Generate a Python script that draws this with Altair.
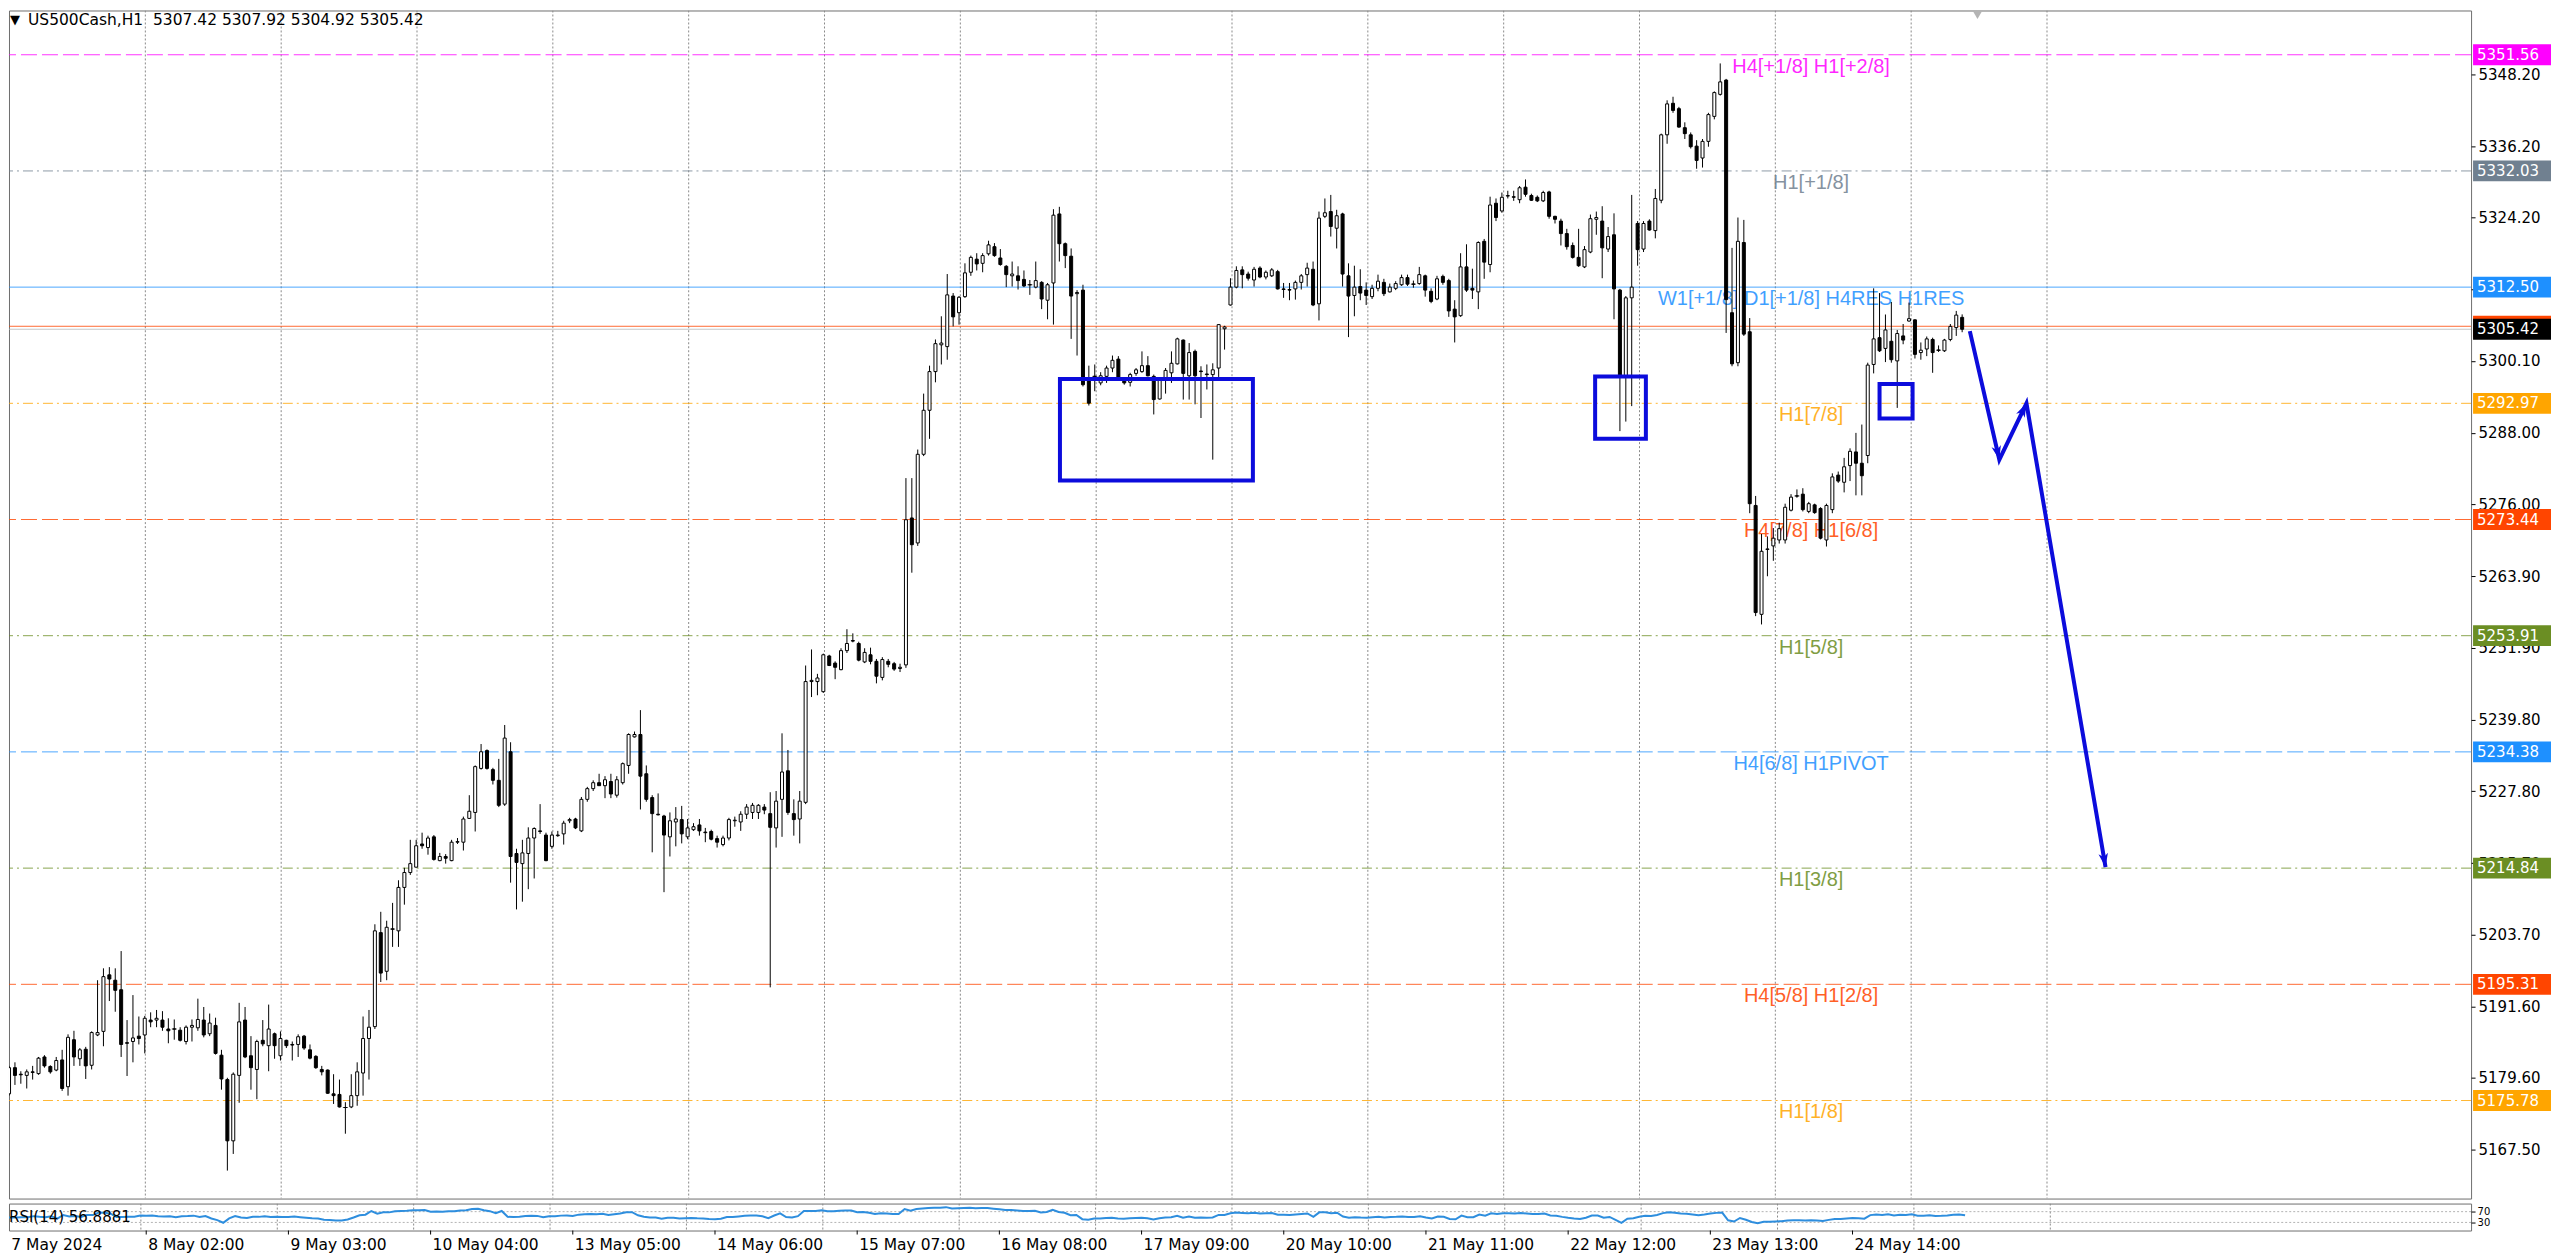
import math
import altair as alt
import numpy as np
import pandas as pd

# ---------------- data (US500Cash, H1) ----------------
opens = [
5176.9, 5181.3, 5180.2, 5180.0, 5180.6, 5180.3, 5183.1, 5181.5, 5180.9, 5182.6,
5178.1, 5186.0, 5182.8, 5184.4, 5181.7, 5186.8, 5187.4, 5196.9, 5196.0, 5194.4,
5185.5, 5185.7, 5186.6, 5186.8, 5189.3, 5189.3, 5189.3, 5187.8, 5187.8, 5187.6,
5185.7, 5188.1, 5188.0, 5189.3, 5187.0, 5188.4, 5183.4, 5179.3, 5169.0, 5180.0,
5189.3, 5183.3, 5181.0, 5185.9, 5185.0, 5187.0, 5183.3, 5185.9, 5185.2, 5185.2,
5186.6, 5184.3, 5183.2, 5181.0, 5180.9, 5176.9, 5176.8, 5174.6, 5174.7, 5176.6,
5180.4, 5186.2, 5188.2, 5204.0, 5197.5, 5204.6, 5204.3, 5211.6, 5214.1, 5215.0,
5218.9, 5218.3, 5220.1, 5216.1, 5216.8, 5216.1, 5219.2, 5219.2, 5223.2, 5224.2,
5231.6, 5234.6, 5231.4, 5229.6, 5225.6, 5234.4, 5217.3, 5215.6, 5217.3, 5219.9,
5221.1, 5220.4, 5218.5, 5220.3, 5220.6, 5222.8, 5223.1, 5221.1, 5226.4, 5228.2,
5229.2, 5228.7, 5229.4, 5227.1, 5229.2, 5232.1, 5236.9, 5237.3, 5230.7, 5226.7,
5223.9, 5223.6, 5220.1, 5222.6, 5223.0, 5220.1, 5221.3, 5222.1, 5220.9, 5221.0,
5219.8, 5218.8, 5219.9, 5222.8, 5222.6, 5223.9, 5224.2, 5224.2, 5225.1, 5224.0,
5221.6, 5226.4, 5231.2, 5224.0, 5223.1, 5225.9, 5246.2, 5246.2, 5244.5, 5250.5,
5249.3, 5248.2, 5251.4, 5253.1, 5252.6, 5249.5, 5250.7, 5249.6, 5246.9, 5249.6,
5249.2, 5248.4, 5249.0, 5273.7, 5269.5, 5284.4, 5291.8, 5298.3, 5302.8, 5302.5,
5311.0, 5308.2, 5310.9, 5315.0, 5317.2, 5316.5, 5318.1, 5319.3, 5317.4, 5316.0,
5314.4, 5314.4, 5313.8, 5312.9, 5312.5, 5313.3, 5310.3, 5313.2, 5324.8, 5319.8,
5317.7, 5311.4, 5312.0, 5296.8, 5297.5, 5296.4, 5297.5, 5298.9, 5300.4, 5296.8,
5296.5, 5298.0, 5298.3, 5299.3, 5297.5, 5293.7, 5297.0, 5298.1, 5299.6, 5303.6,
5297.6, 5301.7, 5298.4, 5297.9, 5297.8, 5298.9, 5305.5, 5309.5, 5312.5, 5315.4,
5314.7, 5313.7, 5315.7, 5314.2, 5314.4, 5315.1, 5312.2, 5312.1, 5312.2, 5313.3,
5314.6, 5315.5, 5309.7, 5324.4, 5325.2, 5322.4, 5324.8, 5314.4, 5311.1, 5312.6,
5312.0, 5310.9, 5312.3, 5313.3, 5311.7, 5312.3, 5312.9, 5314.1, 5313.0, 5313.1,
5314.4, 5311.8, 5310.5, 5314.3, 5313.6, 5308.8, 5307.7, 5315.9, 5312.3, 5311.7,
5320.2, 5316.3, 5326.6, 5325.3, 5327.8, 5327.7, 5327.2, 5329.3, 5327.9, 5327.6,
5327.0, 5328.5, 5324.4, 5323.6, 5321.5, 5319.5, 5317.5, 5315.9, 5318.4, 5323.9,
5323.6, 5318.9, 5321.3, 5312.0, 5297.6, 5310.7, 5323.2, 5318.9, 5323.6, 5322.0,
5327.1, 5338.1, 5343.4, 5342.5, 5339.3, 5338.1, 5336.2, 5334.2, 5337.0, 5341.2,
5344.9, 5347.3, 5308.2, 5299.8, 5320.0, 5305.0, 5275.8, 5257.5, 5268.4, 5269.0,
5270.0, 5270.0, 5275.0, 5277.4, 5277.7, 5274.8, 5275.9, 5275.3, 5270.0, 5275.1,
5280.9, 5279.7, 5282.5, 5284.8, 5282.9, 5284.2, 5299.5, 5304.0, 5302.2, 5303.4,
5300.1, 5304.3, 5306.8, 5307.0, 5301.5, 5302.1, 5303.7, 5301.9, 5301.8, 5303.7,
5305.7, 5307.42]

highs = [
5181.6, 5182.2, 5180.7, 5181.0, 5181.6, 5183.1, 5183.4, 5181.7, 5183.1, 5184.3,
5186.9, 5187.5, 5184.6, 5184.8, 5187.4, 5196.0, 5198.0, 5198.2, 5198.0, 5200.9,
5189.3, 5193.5, 5189.9, 5190.0, 5190.6, 5191.0, 5190.8, 5189.6, 5189.4, 5188.1,
5188.4, 5189.4, 5192.9, 5191.5, 5190.4, 5189.7, 5184.3, 5179.6, 5180.5, 5192.2,
5191.5, 5186.6, 5186.0, 5189.3, 5191.9, 5187.2, 5187.4, 5186.0, 5185.7, 5186.9,
5186.8, 5185.2, 5183.4, 5181.6, 5181.0, 5180.2, 5179.3, 5175.5, 5180.2, 5182.2,
5189.9, 5191.0, 5205.4, 5207.5, 5206.0, 5209.0, 5212.8, 5214.9, 5219.6, 5219.6,
5220.8, 5220.3, 5220.4, 5217.4, 5217.2, 5219.6, 5219.9, 5223.5, 5227.1, 5232.1,
5235.7, 5234.8, 5231.7, 5233.2, 5238.9, 5236.0, 5218.1, 5219.6, 5221.7, 5221.7,
5225.6, 5220.8, 5221.0, 5221.1, 5222.8, 5223.3, 5223.3, 5226.8, 5228.5, 5229.6,
5230.7, 5230.3, 5230.7, 5230.3, 5232.6, 5237.5, 5237.8, 5241.4, 5232.1, 5227.1,
5227.4, 5223.8, 5224.2, 5225.1, 5225.3, 5223.1, 5222.4, 5223.1, 5221.6, 5221.3,
5220.3, 5220.3, 5223.3, 5223.5, 5224.4, 5225.6, 5225.8, 5225.6, 5225.6, 5227.6,
5227.8, 5237.5, 5234.7, 5226.4, 5227.8, 5248.9, 5251.6, 5247.5, 5250.9, 5250.7,
5249.6, 5251.8, 5255.0, 5254.3, 5252.9, 5251.8, 5251.9, 5250.0, 5250.3, 5250.0,
5249.5, 5249.2, 5280.4, 5280.4, 5285.2, 5294.6, 5299.3, 5303.7, 5307.6, 5314.7,
5311.5, 5311.0, 5316.5, 5317.8, 5318.2, 5318.2, 5320.3, 5319.9, 5318.9, 5316.2,
5316.8, 5316.0, 5315.3, 5313.7, 5316.8, 5313.5, 5313.2, 5325.6, 5326.0, 5320.0,
5319.0, 5312.0, 5312.9, 5299.3, 5299.5, 5298.2, 5299.3, 5301.0, 5300.9, 5297.2,
5298.1, 5298.9, 5301.7, 5300.9, 5297.8, 5297.2, 5298.9, 5301.7, 5304.0, 5303.7,
5303.1, 5302.0, 5299.2, 5299.5, 5299.7, 5306.3, 5306.0, 5314.0, 5316.0, 5316.0,
5315.1, 5315.9, 5316.0, 5315.3, 5315.7, 5315.4, 5313.2, 5313.2, 5313.6, 5314.7,
5316.6, 5316.8, 5325.2, 5327.4, 5328.0, 5325.5, 5325.0, 5316.5, 5316.1, 5315.5,
5313.3, 5312.9, 5314.6, 5313.9, 5313.1, 5313.5, 5314.6, 5314.6, 5313.6, 5315.9,
5314.6, 5312.3, 5314.4, 5314.6, 5313.9, 5310.3, 5318.2, 5319.7, 5315.6, 5320.2,
5320.6, 5327.7, 5327.4, 5328.4, 5328.7, 5328.7, 5329.5, 5330.6, 5328.2, 5327.9,
5328.7, 5328.7, 5324.5, 5324.0, 5322.3, 5320.0, 5322.3, 5319.4, 5324.7, 5325.2,
5326.1, 5322.6, 5324.9, 5312.2, 5311.0, 5328.0, 5323.6, 5323.6, 5323.9, 5329.0,
5338.3, 5343.9, 5344.5, 5342.8, 5340.2, 5338.5, 5337.2, 5337.4, 5341.8, 5345.4,
5350.1, 5347.5, 5319.1, 5324.2, 5323.8, 5307.3, 5277.4, 5271.0, 5270.6, 5272.0,
5272.9, 5276.1, 5277.7, 5278.5, 5278.7, 5276.4, 5276.1, 5275.5, 5276.1, 5281.2,
5281.5, 5283.8, 5285.4, 5288.0, 5289.4, 5299.8, 5312.3, 5311.5, 5307.9, 5310.0,
5305.3, 5306.3, 5309.9, 5307.1, 5303.2, 5304.2, 5304.0, 5302.7, 5303.8, 5306.3,
5308.5, 5307.92]

lows = [
5176.6, 5178.4, 5178.6, 5177.8, 5179.3, 5180.1, 5181.3, 5180.3, 5180.7, 5177.4,
5176.6, 5181.6, 5181.6, 5179.4, 5181.0, 5186.6, 5184.9, 5192.5, 5190.7, 5183.1,
5179.9, 5182.2, 5185.2, 5183.7, 5188.1, 5188.1, 5187.5, 5185.4, 5186.0, 5185.7,
5185.2, 5185.7, 5187.5, 5186.4, 5186.6, 5183.5, 5177.6, 5164.0, 5166.8, 5175.4,
5182.9, 5177.6, 5176.0, 5184.9, 5180.7, 5182.8, 5182.5, 5184.6, 5182.5, 5183.1,
5184.3, 5182.7, 5181.1, 5180.0, 5176.9, 5175.2, 5174.6, 5170.2, 5174.5, 5174.9,
5176.6, 5179.3, 5187.8, 5195.7, 5196.0, 5201.6, 5201.6, 5208.7, 5213.7, 5215.0,
5218.1, 5217.1, 5216.1, 5216.0, 5215.6, 5216.0, 5218.9, 5217.8, 5223.1, 5221.0,
5231.4, 5231.4, 5228.9, 5225.1, 5225.3, 5212.4, 5207.9, 5209.2, 5211.3, 5213.1,
5220.6, 5216.0, 5218.1, 5220.1, 5218.8, 5222.4, 5221.4, 5220.9, 5226.0, 5227.8,
5228.7, 5226.6, 5226.6, 5226.7, 5228.9, 5230.7, 5236.8, 5224.7, 5226.0, 5217.5,
5223.7, 5210.8, 5216.8, 5218.5, 5219.0, 5219.7, 5221.1, 5220.3, 5219.2, 5219.5,
5218.3, 5218.5, 5219.5, 5221.8, 5221.1, 5223.1, 5223.1, 5223.1, 5223.9, 5194.8,
5218.3, 5220.1, 5223.8, 5220.3, 5219.0, 5225.6, 5243.6, 5243.9, 5244.3, 5248.8,
5246.6, 5248.1, 5251.0, 5252.8, 5249.6, 5249.3, 5249.1, 5245.9, 5246.4, 5248.6,
5248.0, 5247.8, 5248.5, 5264.5, 5269.0, 5284.1, 5287.0, 5296.5, 5299.5, 5300.3,
5305.9, 5306.2, 5310.7, 5314.4, 5315.3, 5315.0, 5317.8, 5317.6, 5316.1, 5312.5,
5312.6, 5312.1, 5312.5, 5311.2, 5312.3, 5308.8, 5307.1, 5306.2, 5316.8, 5315.7,
5303.8, 5301.0, 5295.8, 5292.6, 5295.0, 5296.0, 5296.4, 5298.2, 5297.0, 5296.1,
5295.8, 5297.6, 5298.1, 5297.5, 5291.1, 5293.6, 5294.6, 5296.4, 5299.5, 5293.6,
5293.6, 5292.8, 5290.5, 5295.3, 5283.5, 5297.4, 5302.0, 5309.4, 5312.3, 5312.3,
5313.6, 5312.6, 5314.0, 5313.8, 5314.2, 5312.1, 5310.7, 5310.3, 5310.4, 5312.1,
5312.6, 5309.3, 5306.9, 5324.1, 5321.0, 5319.0, 5312.6, 5304.1, 5307.6, 5310.3,
5309.5, 5310.5, 5311.8, 5311.0, 5311.6, 5312.0, 5312.7, 5312.7, 5312.4, 5312.9,
5310.9, 5309.8, 5310.3, 5312.9, 5307.5, 5303.2, 5307.5, 5311.7, 5310.5, 5308.8,
5313.9, 5315.0, 5323.6, 5325.0, 5327.4, 5327.0, 5326.6, 5327.7, 5327.0, 5326.8,
5326.8, 5324.0, 5323.2, 5319.5, 5318.8, 5317.3, 5315.9, 5315.7, 5318.2, 5321.3,
5314.0, 5318.4, 5307.1, 5288.3, 5289.9, 5292.5, 5316.1, 5318.4, 5322.0, 5320.7,
5326.6, 5336.6, 5341.8, 5339.3, 5337.4, 5335.8, 5332.4, 5332.6, 5336.1, 5340.7,
5344.7, 5304.8, 5299.2, 5299.2, 5304.3, 5274.5, 5257.2, 5255.8, 5263.9, 5266.5,
5269.4, 5269.4, 5274.8, 5277.1, 5274.8, 5274.5, 5274.4, 5270.1, 5268.9, 5274.5,
5279.6, 5278.0, 5279.9, 5277.5, 5277.5, 5282.9, 5298.0, 5301.6, 5299.9, 5299.8,
5292.2, 5302.9, 5306.7, 5300.5, 5300.3, 5300.9, 5298.1, 5301.6, 5301.6, 5303.4,
5304.3, 5304.92]

closes = [
5181.3, 5180.0, 5180.1, 5180.6, 5180.5, 5182.9, 5181.6, 5180.6, 5182.5, 5177.8,
5186.4, 5183.1, 5184.3, 5181.6, 5187.2, 5187.2, 5196.6, 5196.2, 5194.3, 5185.2,
5185.4, 5186.3, 5186.2, 5189.6, 5189.0, 5189.6, 5188.1, 5187.5, 5187.8, 5185.9,
5188.1, 5188.4, 5189.4, 5186.8, 5188.8, 5183.7, 5179.4, 5169.0, 5180.2, 5189.0,
5183.1, 5181.3, 5185.7, 5185.3, 5187.8, 5185.0, 5186.2, 5185.0, 5185.1, 5186.5,
5184.6, 5182.9, 5181.3, 5180.6, 5177.0, 5176.6, 5174.7, 5174.6, 5176.6, 5180.6,
5186.2, 5188.1, 5204.3, 5197.2, 5204.9, 5204.6, 5211.6, 5214.1, 5215.6, 5218.6,
5218.6, 5219.9, 5216.3, 5216.8, 5216.5, 5219.2, 5219.3, 5223.1, 5224.4, 5231.9,
5234.4, 5231.6, 5229.6, 5225.4, 5236.7, 5216.8, 5215.8, 5217.4, 5219.9, 5221.5,
5221.0, 5216.1, 5220.4, 5220.4, 5222.4, 5223.0, 5221.6, 5226.4, 5228.2, 5229.2,
5228.7, 5229.7, 5227.3, 5229.7, 5232.4, 5237.3, 5237.3, 5230.3, 5226.4, 5224.0,
5223.8, 5220.4, 5222.8, 5223.1, 5220.6, 5221.6, 5221.8, 5221.1, 5220.8, 5219.7,
5219.2, 5219.9, 5223.0, 5222.9, 5223.9, 5225.1, 5225.4, 5225.4, 5224.6, 5221.7,
5226.1, 5231.0, 5224.2, 5223.0, 5226.1, 5246.2, 5246.4, 5246.8, 5250.7, 5248.9,
5248.6, 5251.4, 5252.6, 5253.0, 5249.8, 5251.1, 5249.6, 5247.1, 5249.9, 5249.1,
5248.3, 5248.6, 5273.4, 5269.2, 5284.4, 5291.8, 5298.3, 5303.0, 5303.1, 5311.2,
5307.5, 5310.8, 5314.9, 5317.5, 5316.4, 5317.8, 5319.6, 5317.8, 5316.3, 5314.6,
5314.7, 5313.6, 5312.7, 5312.9, 5313.6, 5310.5, 5312.9, 5324.6, 5319.8, 5317.8,
5311.0, 5311.6, 5296.1, 5293.0, 5297.5, 5297.6, 5298.9, 5300.2, 5297.4, 5296.4,
5297.8, 5298.6, 5299.3, 5297.6, 5293.6, 5297.0, 5298.5, 5299.7, 5303.8, 5298.0,
5301.5, 5297.6, 5298.3, 5297.8, 5298.6, 5306.2, 5305.8, 5312.5, 5315.3, 5314.6,
5314.0, 5315.5, 5314.2, 5315.0, 5315.4, 5312.2, 5312.1, 5312.0, 5313.3, 5314.4,
5315.7, 5309.5, 5324.1, 5325.0, 5322.7, 5324.5, 5314.7, 5311.0, 5312.5, 5311.5,
5311.1, 5312.3, 5313.5, 5311.4, 5312.5, 5313.1, 5314.1, 5313.0, 5313.0, 5314.6,
5312.0, 5310.1, 5313.9, 5313.3, 5308.5, 5307.5, 5315.9, 5312.0, 5312.0, 5320.0,
5316.7, 5326.3, 5324.2, 5327.6, 5327.9, 5327.6, 5329.2, 5328.1, 5327.1, 5327.0,
5328.4, 5324.4, 5323.9, 5321.5, 5319.3, 5317.5, 5316.1, 5318.8, 5324.0, 5324.2,
5319.1, 5321.0, 5312.2, 5297.6, 5310.7, 5312.5, 5318.8, 5323.2, 5322.1, 5327.4,
5338.1, 5343.3, 5342.2, 5339.4, 5338.3, 5336.1, 5333.8, 5337.0, 5341.5, 5345.2,
5347.0, 5310.4, 5299.6, 5320.2, 5304.6, 5276.1, 5257.8, 5268.1, 5268.5, 5270.3,
5271.9, 5275.5, 5277.2, 5277.4, 5275.1, 5276.1, 5274.6, 5270.3, 5275.8, 5280.6,
5279.9, 5282.3, 5284.9, 5282.9, 5280.8, 5299.4, 5303.8, 5301.8, 5305.3, 5300.3,
5304.7, 5303.6, 5307.2, 5301.2, 5301.9, 5303.8, 5301.5, 5301.9, 5303.6, 5305.9,
5307.8, 5305.42]

time_labels = ["7 May 2024", "8 May 02:00", "9 May 03:00", "10 May 04:00",
               "13 May 05:00", "14 May 06:00", "15 May 07:00", "16 May 08:00",
               "17 May 09:00", "20 May 10:00", "21 May 11:00", "22 May 12:00",
               "23 May 13:00", "24 May 14:00"]
BARS_PER_LABEL = 24

level_prices = [5351.56, 5332.03, 5312.50, 5292.97, 5273.44,
                5253.91, 5234.38, 5214.84, 5195.31, 5175.78]
level_names = ["H4[+1/8] H1[+2/8]", "H1[+1/8]", "W1[+1/8] D1[+1/8] H4RES H1RES",
               "H1[7/8]", "H4[7/8] H1[6/8]", "H1[5/8]", "H4[6/8] H1PIVOT",
               "H1[3/8]", "H4[5/8] H1[2/8]", "H1[1/8]"]
level_colors = ["#ff00ff", "#708090", "#1e90ff", "#ffa500", "#ff4500",
                "#6b8e23", "#1e90ff", "#6b8e23", "#ff4500", "#ffa500"]
level_styles = ["dash", "dashdot", "solid", "dashdot", "dash",
                "dashdot", "dash", "dashdot", "dash", "dashdot"]

bid_price = 5305.42
ask_price = 5305.92

tag_prices = [5351.56, 5332.03, 5312.50, 5305.92, 5305.42, 5292.97,
              5273.44, 5253.91, 5234.38, 5214.84, 5195.31, 5175.78]
tag_colors = ["#ff00ff", "#708090", "#1e90ff", "#ff4500", "#000000", "#ffa500",
              "#ff4500", "#6b8e23", "#1e90ff", "#6b8e23", "#ff4500", "#ffa500"]
tag_texts = ["5351.56", "5332.03", "5312.50", "", "5305.42", "5292.97",
             "5273.44", "5253.91", "5234.38", "5214.84", "5195.31", "5175.78"]

price_ticks = [5348.2, 5336.2, 5324.2, 5312.1, 5300.1, 5288.0, 5276.0, 5263.9,
               5251.9, 5239.8, 5227.8, 5215.7, 5203.7, 5191.6, 5179.6, 5167.5]
rsi_ticks = [70, 30]
rsi_levels = [70, 30]

zone_start = [178.1, 268.8, 317.0]
zone_end = [210.8, 277.4, 322.6]
zone_top = [5297.06, 5297.46, 5296.2]
zone_bottom = [5279.99, 5287.0, 5290.4]

path_bars = [332.3, 337.3, 341.9, 355.3]
path_prices = [5305.1, 5283.5, 5292.97, 5215.0]

symbol_text = "US500Cash,H1\u00a0 5307.42 5307.92 5304.92 5305.42"
rsi_text = "RSI(14) 56.8881"

# ---------------- layout ----------------
W, H, RH = 2464, 1189, 27
X_DOM = [0.84, 416.4]
Y_DOM = [5159.3, 5359.0]
GRID_START, GRID_STEP, GRID_N = 23.1, 23.02, 15
LEVEL_TEXT_BAR = 305.4
SHIFT_BAR = 333.6
FONT_AX = "DejaVu Sans"
FONT_TX = "Liberation Sans"
BLUE = "#0c0cdc"

xs = alt.Scale(domain=X_DOM, nice=False, zero=False)
ys = alt.Scale(domain=Y_DOM, nice=False, zero=False)
yaxis = alt.Axis(orient="right", values=price_ticks, format=".2f", labelFont=FONT_AX,
                 labelFontSize=15, labelColor="#000000", tickColor="#000000", tickSize=4,
                 labelPadding=3, domain=False, grid=False, title=None, labelOverlap=False)


def X(f):
    return alt.X(f"{f}:Q", scale=xs, axis=None, title=None)


def Y(f):
    return alt.Y(f"{f}:Q", scale=ys, axis=yaxis, title=None)


# candles
cdf = pd.DataFrame({"bar": list(range(len(closes))), "open": opens, "high": highs,
                    "low": lows, "close": closes})
cdf["top"] = cdf[["open", "close"]].max(axis=1)
cdf["bot"] = cdf[["open", "close"]].min(axis=1)
cdf["hi"] = cdf[["high", "top"]].max(axis=1)
cdf["lo"] = cdf[["low", "bot"]].min(axis=1)
cdf["fillc"] = np.where(cdf["close"] >= cdf["open"], "#ffffff", "#000000")

grid_df = pd.DataFrame({"g": [GRID_START + GRID_STEP * k for k in range(GRID_N)]})

layers = []
layers.append(alt.Chart(grid_df).mark_rule(color="#8a8a8a", strokeWidth=1, strokeDash=[2, 2],
                                           clip=True).encode(x=X("g")))

ldf = pd.DataFrame({"i": list(range(len(level_prices))), "price": level_prices,
                    "name": level_names, "color": level_colors, "style": level_styles})
ldf["tx"] = LEVEL_TEXT_BAR
dash_map = {"dash": [16, 5], "dashdot": [10, 4, 2, 4]}
for i in range(len(level_prices)):
    kw = dict(color=level_colors[i], strokeWidth=1, opacity=0.8, clip=True)
    if level_styles[i] in dash_map:
        kw["strokeDash"] = dash_map[level_styles[i]]
    layers.append(alt.Chart(ldf).transform_filter(alt.datum.i == i)
                  .mark_rule(**kw).encode(y=Y("price")))

qdf = pd.DataFrame({"price": [bid_price, ask_price], "color": ["#b8b8b8", "#ff4500"]})
layers.append(alt.Chart(qdf).mark_rule(strokeWidth=1, opacity=0.8, clip=True).encode(
    y=Y("price"), color=alt.Color("color:N", scale=None)))

layers.append(alt.Chart(ldf).mark_text(font=FONT_TX, fontSize=20, align="center", baseline="top",
                                       dy=2, opacity=0.85).encode(
    x=X("tx"), y=Y("price"), text="name:N", color=alt.Color("color:N", scale=None)))

layers.append(alt.Chart(cdf).mark_rule(color="#000000", strokeWidth=1, clip=True).encode(
    x=X("bar"), y=Y("lo"), y2="hi"))
layers.append(alt.Chart(cdf).mark_bar(size=3, stroke="#000000", strokeWidth=1, clip=True).encode(
    x=X("bar"), y=Y("top"), y2="bot", fill=alt.Fill("fillc:N", scale=None)))
layers.append(alt.Chart(cdf).transform_filter("datum.top - datum.bot < 0.05")
              .mark_tick(orient="horizontal", size=5, thickness=1, color="#000000", clip=True)
              .encode(x=X("bar"), y=Y("top")))

zdf = pd.DataFrame({"x1": zone_start, "x2": zone_end, "top": zone_top, "bottom": zone_bottom})
layers.append(alt.Chart(zdf).mark_rect(fillOpacity=0, stroke=BLUE, strokeWidth=4, clip=True).encode(
    x=X("x1"), x2="x2", y=Y("top"), y2="bottom"))

adf = pd.DataFrame({"k": list(range(len(path_bars))), "bar": path_bars, "price": path_prices})
layers.append(alt.Chart(adf).mark_line(color=BLUE, strokeWidth=4, clip=True).encode(
    x=X("bar"), y=Y("price"), order="k:Q"))

pxb = W / (X_DOM[1] - X_DOM[0])
pxp = H / (Y_DOM[1] - Y_DOM[0])
heads = []
for k in range(1, len(path_bars)):
    dx = (path_bars[k] - path_bars[k - 1]) * pxb
    dy = -(path_prices[k] - path_prices[k - 1]) * pxp
    ang = math.degrees(math.atan2(dx, -dy)) % 360
    heads.append({"bar": path_bars[k], "price": path_prices[k], "ang": ang})
hdf = pd.DataFrame(heads)
ARROW = "M0,0 L0.55,1.6 L0,1.15 L-0.55,1.6 Z"
layers.append(alt.Chart(hdf).mark_point(shape=ARROW, filled=True, size=300, color=BLUE,
                                        opacity=1).encode(
    x=X("bar"), y=Y("price"), angle=alt.Angle("ang:Q", scale=None)))

hd = pd.DataFrame({"t": ["\u25bc"]})
layers.append(alt.Chart(hd).mark_text(font=FONT_AX, fontSize=13, align="left", baseline="middle",
                                      color="#000000").encode(
    x=alt.value(1), y=alt.value(10), text="t:N"))
hd2 = pd.DataFrame({"t": [symbol_text]})
layers.append(alt.Chart(hd2).mark_text(font=FONT_AX, fontSize=15.5, align="left",
                                       baseline="middle", color="#000000").encode(
    x=alt.value(19), y=alt.value(10), text="t:N"))
sdf = pd.DataFrame({"b": [SHIFT_BAR]})
layers.append(alt.Chart(sdf).mark_point(shape="triangle-down", filled=True, size=110,
                                        color="#b4b4b4", opacity=1).encode(
    x=X("b"), y=alt.value(4)))

tdf = pd.DataFrame({"price": tag_prices, "color": tag_colors, "text": tag_texts})
tdf["hi"] = tdf["price"] + 1.75
tdf["lo"] = tdf["price"] - 1.75
layers.append(alt.Chart(tdf).mark_rect().encode(
    x=alt.value(W + 2), x2=alt.value(W + 80), y=Y("hi"), y2="lo",
    color=alt.Color("color:N", scale=None)))
layers.append(alt.Chart(tdf).transform_filter("datum.text != ''").mark_text(
    font=FONT_AX, fontSize=15, align="left", baseline="middle", color="#ffffff").encode(
    x=alt.value(W + 6), y=Y("price"), text="text:N"))

main = alt.layer(*layers).properties(width=W, height=H)

# ---------------- RSI(14) panel, computed from the closes ----------------
n = 14
diffs = np.diff(np.array(closes))
seed = float(np.mean(np.abs(diffs[:n]))) / 2.0
ag, al = seed, seed
rsi_vals = [50.0]
for d in diffs:
    ag = (ag * (n - 1) + max(d, 0.0)) / n
    al = (al * (n - 1) + max(-d, 0.0)) / n
    rsi_vals.append(100.0 - 100.0 / (1.0 + ag / al) if al > 0 else 100.0)
rdf = pd.DataFrame({"bar": list(range(len(closes))), "rsi": rsi_vals})

rys = alt.Scale(domain=[0, 100], nice=False, zero=False)
raxis = alt.Axis(orient="right", values=rsi_ticks, labelFont=FONT_AX, labelFontSize=10,
                 labelColor="#000000", tickColor="#000000", tickSize=4, labelPadding=2,
                 domain=False, grid=False, title=None, labelOverlap=False)


def RY(f):
    return alt.Y(f"{f}:Q", scale=rys, axis=raxis, title=None)


rl = pd.DataFrame({"v": rsi_levels})
tl = pd.DataFrame({"bar": [max(BARS_PER_LABEL * k, X_DOM[0] + 0.05) for k in range(len(time_labels))],
                   "text": time_labels})
rsi_layers = [
    alt.Chart(grid_df).mark_rule(color="#8a8a8a", strokeWidth=1, strokeDash=[2, 2], clip=True)
    .encode(x=X("g")),
    alt.Chart(rl).mark_rule(color="#b4b4b4", strokeWidth=1, strokeDash=[2, 2]).encode(y=RY("v")),
    alt.Chart(rdf).mark_line(color="#2e8ede", strokeWidth=2, clip=True).encode(
        x=X("bar"), y=RY("rsi")),
    alt.Chart(pd.DataFrame({"t": [rsi_text]})).mark_text(
        font=FONT_AX, fontSize=15, align="left", baseline="middle", color="#000000").encode(
        x=alt.value(0), y=alt.value(13), text="t:N"),
    alt.Chart(tl).transform_filter("datum.bar > 1").mark_rule(color="#000000").encode(
        x=X("bar"), y=alt.value(RH), y2=alt.value(RH + 4)),
    alt.Chart(tl).mark_text(font=FONT_AX, fontSize=15.5, align="left", baseline="middle",
                            dx=2, color="#000000").encode(
        x=X("bar"), y=alt.value(RH + 14), text="text:N"),
]
rsi = alt.layer(*rsi_layers).properties(width=W, height=RH)

chart = (alt.vconcat(main, rsi, spacing=3)
         .properties(padding=0, background="#ffffff")
         .configure_view(stroke="#6e6e6e", strokeWidth=1))

chart.save("out.html", embed_options={"renderer": "svg", "actions": False})
